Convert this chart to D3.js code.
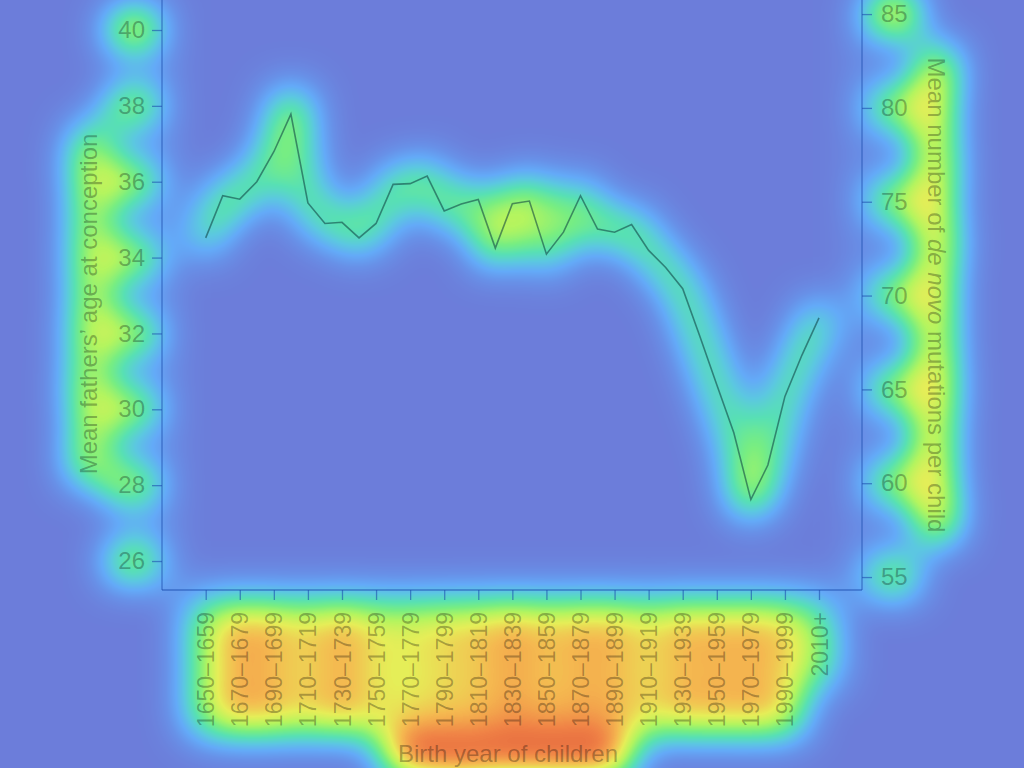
<!DOCTYPE html>
<html>
<head>
<meta charset="utf-8">
<script src="https://cdn.jsdelivr.net/npm/d3@7"></script>
<style>
  body { margin: 0; background: #6c7ed9; }
  svg { display: block; font-family: "Liberation Sans", Arial, Helvetica, sans-serif; }
</style>
</head>
<body>
<svg id="chart" width="1024" height="768"></svg>
<script>
// data
const decades = ["1650–1659", "1660–1669", "1670–1679", "1680–1689", "1690–1699", "1700–1709",
  "1710–1719", "1720–1729", "1730–1739", "1740–1749", "1750–1759", "1760–1769", "1770–1779",
  "1780–1789", "1790–1799", "1800–1809", "1810–1819", "1820–1829", "1830–1839", "1840–1849",
  "1850–1859", "1860–1869", "1870–1879", "1880–1889", "1890–1899", "1900–1909", "1910–1919",
  "1920–1929", "1930–1939", "1940–1949", "1950–1959", "1960–1969", "1970–1979", "1980–1989",
  "1990–1999", "2000–2009", "2010+"];
const fatherAge = [34.52, 35.63, 35.54, 36.00, 36.79, 37.78, 35.44, 34.90, 34.93, 34.52, 34.90,
  35.93, 35.95, 36.15, 35.23, 35.41, 35.53, 34.25, 35.42, 35.49, 34.09, 34.67, 35.63, 34.75,
  34.67, 34.87, 34.19, 33.74, 33.18, 31.93, 30.65, 29.38, 27.62, 28.53, 30.34, 31.43, 32.41];
const tickDecades = decades.filter((d, i) => i % 2 === 0);
const ageTicks = [26, 28, 30, 32, 34, 36, 38, 40];
const mutationTicks = [55, 60, 65, 70, 75, 80, 85];
const labelHeat = [0.6, 0.82, 0.76, 0.68, 0.82, 0.64, 0.64, 0.7, 0.72, 0.82, 0.72, 0.78,
  0.78, 0.66, 0.78, 0.76, 0.78, 0.74, 0.52];
const hotSpots = ["1700–1709", "1820–1829", "1840–1849", "1970–1979"];

const svg = d3.select("#chart");
const W = 1024, H = 768;
const plot = { left: 162, right: 862, top: 0, bottom: 590 };

const x = d3.scalePoint().domain(decades).range([205.7, 819]);
const yAge = d3.scaleLinear().domain([25.236, 40.791]).range([plot.bottom, plot.top]);
const yMut = d3.scaleLinear().domain([54.31, 85.75]).range([plot.bottom, plot.top]);

const line = d3.line()
  .x((d, i) => x(decades[i]))
  .y(d => yAge(d));

// builds axes + titles into a group, used for both the heat layer and the ink layer
function buildChart(g) {
  const left = g.append("g").attr("class", "ax-left")
    .attr("transform", `translate(${plot.left},0)`)
    .call(d3.axisLeft(yAge).tickValues(ageTicks).tickSize(10).tickPadding(7).tickSizeOuter(0));
  const right = g.append("g").attr("class", "ax-right")
    .attr("transform", `translate(${plot.right},0)`)
    .call(d3.axisRight(yMut).tickValues(mutationTicks).tickSize(10).tickPadding(9).tickSizeOuter(0));
  const bottom = g.append("g").attr("class", "ax-bottom")
    .attr("transform", `translate(0,${plot.bottom})`)
    .call(d3.axisBottom(x).tickValues(tickDecades).tickSize(10).tickSizeOuter(0));
  bottom.select(".domain").attr("d", `M${plot.left},0H${plot.right}`);
  left.select(".domain").attr("d", `M0,${plot.top}V${plot.bottom}`);
  right.select(".domain").attr("d", `M0,${plot.top}V${plot.bottom}`);

  bottom.selectAll(".tick text")
    .attr("transform", "rotate(-90)")
    .attr("text-anchor", "end")
    .attr("x", -22)
    .attr("y", 0)
    .attr("dy", "0.35em")
    .attr("font-size", 23);

  [left, right, bottom].forEach(a => a.attr("font-family", null).attr("font-size", 24));

  g.append("text").attr("class", "title title-left")
    .attr("transform", "translate(97,304) rotate(-90)")
    .attr("text-anchor", "middle")
    .attr("font-size", 24)
    .text("Mean fathers’ age at conception");

  const rt = g.append("text").attr("class", "title title-right")
    .attr("transform", "translate(928,295) rotate(90)")
    .attr("text-anchor", "middle")
    .attr("font-size", 24);
  rt.append("tspan").text("Mean number of ");
  rt.append("tspan").attr("font-style", "italic").text("de novo");
  rt.append("tspan").text(" mutations per child");

  g.append("text").attr("class", "title title-bottom")
    .attr("x", 508).attr("y", 762)
    .attr("text-anchor", "middle")
    .attr("font-size", 24)
    .text("Birth year of children");
}

// heat layer: grey intensity, blurred, then mapped to a jet-like palette
const defs = svg.append("defs");
const f = defs.append("filter").attr("id", "heat")
  .attr("filterUnits", "userSpaceOnUse")
  .attr("x", 0).attr("y", 0).attr("width", W).attr("height", H)
  .attr("color-interpolation-filters", "sRGB");
f.append("feGaussianBlur").attr("stdDeviation", 20).attr("result", "b");
const ct = f.append("feComponentTransfer");
ct.append("feFuncR").attr("type", "table")
  .attr("tableValues", "0.424 0.408 0.392 0.361 0.345 0.471 0.706 0.902 0.961 0.941 0.871");
ct.append("feFuncG").attr("type", "table")
  .attr("tableValues", "0.494 0.569 0.667 0.784 0.882 0.933 0.961 0.933 0.725 0.510 0.345");
ct.append("feFuncB").attr("type", "table")
  .attr("tableValues", "0.855 0.910 0.973 0.882 0.706 0.510 0.373 0.345 0.314 0.275 0.227");

const heat = svg.append("g").attr("filter", "url(#heat)");
heat.append("rect").attr("x", -80).attr("y", -80).attr("width", W + 160).attr("height", H + 160).attr("fill", "#000");

heat.append("path")
  .datum(fatherAge)
  .attr("d", line)
  .attr("fill", "none")
  .attr("stroke", "#fff")
  .attr("stroke-width", 36)
  .attr("stroke-linejoin", "round")
  .attr("stroke-linecap", "round")
  .attr("opacity", 0.56);

heat.selectAll(".hot")
  .data(hotSpots)
  .enter()
  .append("circle")
  .attr("cx", d => x(d))
  .attr("cy", d => yAge(fatherAge[decades.indexOf(d)]) - 6)
  .attr("r", 26)
  .attr("fill", "#fff")
  .attr("opacity", 0.36);

const heatAxes = heat.append("g");
buildChart(heatAxes);
heatAxes.selectAll(".domain, .tick line").attr("stroke", "#fff").attr("opacity", 0.18).attr("stroke-width", 14);
heatAxes.selectAll("text")
  .attr("fill", "#fff")
  .attr("stroke", "#fff")
  .attr("stroke-width", 26)
  .attr("stroke-linejoin", "round");
heatAxes.selectAll(".ax-bottom .tick text")
  .attr("opacity", (d, i) => labelHeat[i]);
heatAxes.selectAll(".ax-left .tick text").attr("opacity", d => d === 40 ? 0.92 : 0.76);
heatAxes.selectAll(".ax-right .tick text").attr("opacity", d => d === 85 ? 0.98 : 0.7);
heatAxes.select(".title-left").attr("opacity", 0.72);
heatAxes.select(".title-right").attr("opacity", 0.86);
heatAxes.select(".title-bottom").attr("opacity", 1).attr("stroke-width", 36);

// ink layer
const ink = svg.append("g");
buildChart(ink);
ink.selectAll(".domain, .tick line").attr("stroke", "#1d4cae").attr("stroke-opacity", 0.6).attr("stroke-width", 1.3);
ink.selectAll("text").attr("fill", "#000").attr("fill-opacity", 0.3);

ink.append("path")
  .datum(fatherAge)
  .attr("d", line)
  .attr("fill", "none")
  .attr("stroke", "#0b3a3c")
  .attr("stroke-opacity", 0.55)
  .attr("stroke-width", 1.6);
</script>
</body>
</html>
